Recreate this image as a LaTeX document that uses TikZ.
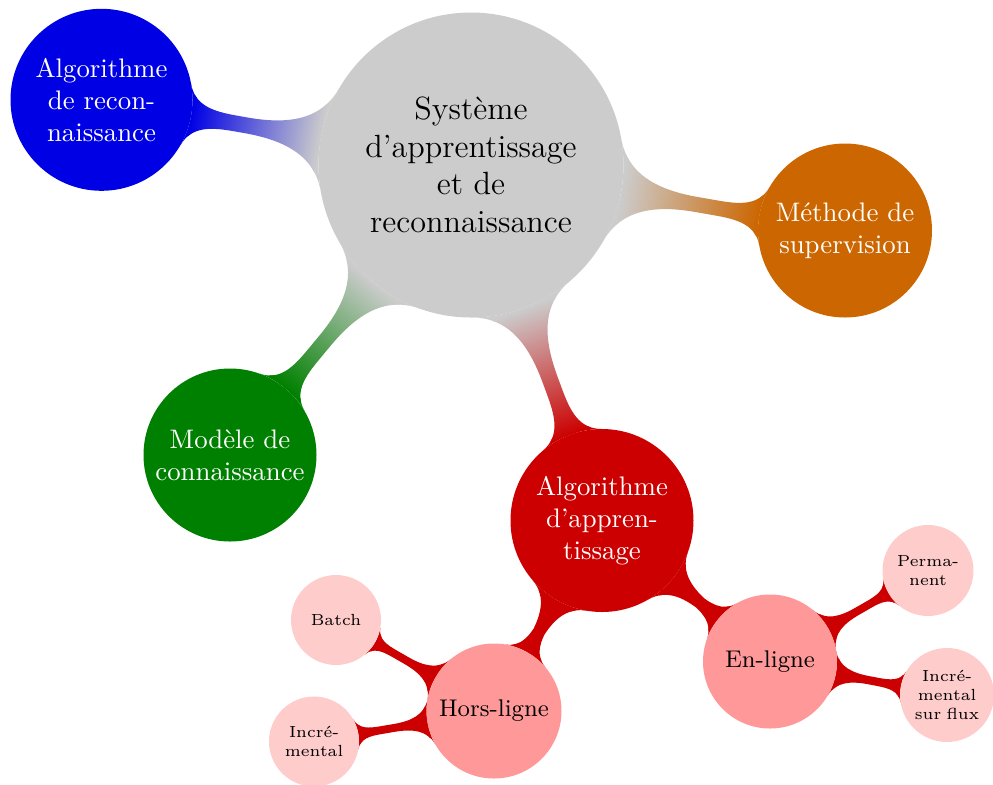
\documentclass[tikz,border=0pt]{standalone}
\usetikzlibrary{mindmap,backgrounds}
\colorlet{cgray}{black!20}
\colorlet{cblue}{blue!90!black}
\colorlet{corange}{orange!80!black}
\colorlet{cgreen}{green!50!black}
\colorlet{cred}{red!80!black}
\colorlet{cpink}{red!40}
\colorlet{clight}{red!20}
\begin{document}
\begin{tikzpicture}[x=0.37313pt,y=-0.37313pt,mindmap,
  cpt/.style 2 args={concept, circle, align=center, inner sep=0pt, draw=none,
     minimum size=#1*0.37313pt, text width=#2},
  rootc/.style={cpt={305}{90pt}, concept color=cgray, fill=cgray, text=black,
     font=\fontsize{12}{14}\selectfont},
  lvla/.style 2 args={cpt={#1}{58pt}, concept color=#2, fill=#2, text=white,
     font=\fontsize{10}{12}\selectfont},
  lvlb/.style={cpt={#1}{46pt}, concept color=cred, fill=cpink, text=black,
     font=\fontsize{9}{11}\selectfont},
  lvlc/.style={cpt={#1}{28pt}, concept color=cred, fill=clight, text=black,
     font=\fontsize{6}{7}\selectfont},
  bar/.style 2 args={circle connection bar switch color=from (#1) to (#2)},
]
\useasboundingbox (0,0) rectangle (993,784);
% concepts
\node[rootc] (root) at (471,165) {Système\\d’apprentissage\\et de\\reconnaissance};
\node[lvla={182}{cblue}] (reco) at (101.5,99.8) {Algorithme\\de recon-\\naissance};
\node[lvla={174}{corange}] (sup) at (845,230.5) {Méthode de\\supervision};
\node[lvla={173}{cgreen}] (mod) at (230,455) {Modèle de\\connaissance};
\node[lvla={183}{cred}] (app) at (602,520.5) {Algorithme\\d’appren-\\tissage};
\node[lvlb={135}] (hors) at (494,711) {Hors-ligne};
\node[lvlb={134}] (enl) at (770,661.5) {En-ligne};
\node[lvlc={90}] (batch) at (336,620) {Batch};
\node[lvlc={90}] (incr) at (314,741.5) {Incré-\\mental};
\node[lvlc={91}] (perm) at (928,570.5) {Perma-\\nent};
\node[lvlc={94}] (flux) at (947,695) {Incré-\\mental\\sur~flux};
% connection bars
\begin{scope}[on background layer]
\path (root) to[bar={cgray}{cblue}] (reco);
\path (root) to[bar={cgray}{corange}] (sup);
\path (root) to[bar={cgray}{cgreen}] (mod);
\path (root) to[bar={cgray}{cred}] (app);
\path (app) to[bar={cred}{cred}] (hors);
\path (app) to[bar={cred}{cred}] (enl);
\path (hors) to[bar={cred}{cred}] (batch);
\path (hors) to[bar={cred}{cred}] (incr);
\path (enl) to[bar={cred}{cred}] (perm);
\path (enl) to[bar={cred}{cred}] (flux);
\end{scope}
\end{tikzpicture}
\end{document}
